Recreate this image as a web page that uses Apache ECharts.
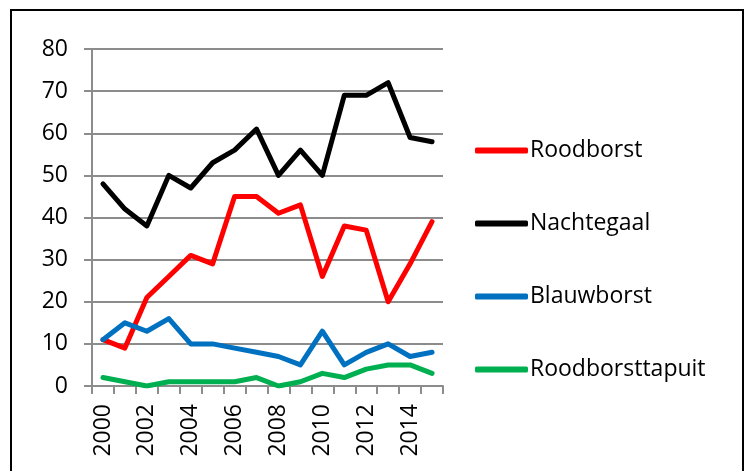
<!DOCTYPE html>
<html>
<head>
<meta charset="utf-8">
<script src="https://cdn.jsdelivr.net/npm/echarts@6/dist/echarts.min.js"></script>
<style>
  html, body { margin: 0; padding: 0; background: #fff; }
  #chart { width: 750px; height: 471px; }
</style>
</head>
<body>
<div id="chart"></div>
<script>
const years = ['2000', '2001', '2002', '2003', '2004', '2005', '2006', '2007',
  '2008', '2009', '2010', '2011', '2012', '2013', '2014', '2015']
const roodborst = [11, 9, 21, 26, 31, 29, 45, 45, 41, 43, 26, 38, 37, 20, 29, 39]
const nachtegaal = [48, 42, 38, 50, 47, 53, 56, 61, 50, 56, 50, 69, 69, 72, 59, 58]
const blauwborst = [11, 15, 13, 16, 10, 10, 9, 8, 7, 5, 13, 5, 8, 10, 7, 8]
const roodborsttapuit = [2, 1, 0, 1, 1, 1, 1, 2, 0, 1, 3, 2, 4, 5, 5, 3]

const font = '"Open Sans", "Noto Sans", sans-serif'
const gridColor = '#8c8c8c'

const chart = echarts.init(document.getElementById('chart'))

function line(name, data, color) {
  return {
    name,
    type: 'line',
    data,
    symbol: 'none',
    lineStyle: { color, width: 5, cap: 'round', join: 'round' },
    itemStyle: { color },
  }
}

chart.setOption({
  animation: false,
  textStyle: { fontFamily: font },
  graphic: [{
    type: 'rect',
    shape: { x: 11, y: 10, width: 732, height: 480 },
    style: { fill: 'none', stroke: '#000', lineWidth: 2 },
  }],
  grid: { left: 92, right: 307, top: 49, bottom: 85 },
  legend: {
    orient: 'vertical',
    left: 470,
    top: 134,
    icon: 'roundRect',
    itemWidth: 53,
    itemHeight: 6,
    itemGap: 50,
    textStyle: { fontFamily: font, fontSize: 23, color: '#000', padding: [0, 0, 0, -3] },
    data: ['Roodborst', 'Nachtegaal', 'Blauwborst', 'Roodborsttapuit'],
  },
  xAxis: {
    type: 'category',
    data: years,
    boundaryGap: true,
    axisLine: { lineStyle: { color: gridColor, width: 2 } },
    axisTick: { show: true, length: 8, lineStyle: { color: gridColor, width: 2 }, interval: 0 },
    axisLabel: { rotate: 90, interval: 1, margin: 18, fontSize: 23, color: '#000', fontFamily: font },
  },
  yAxis: {
    type: 'value',
    min: 0,
    max: 80,
    interval: 10,
    axisLine: { show: true, lineStyle: { color: gridColor, width: 2 } },
    axisTick: { show: true, length: 8, lineStyle: { color: gridColor, width: 2 } },
    axisLabel: { margin: 24, fontSize: 23, color: '#000', fontFamily: font },
    splitLine: { lineStyle: { color: gridColor, width: 2 } },
  },
  series: [
    line('Roodborst', roodborst, '#ff0000'),
    line('Nachtegaal', nachtegaal, '#000000'),
    line('Blauwborst', blauwborst, '#0070c0'),
    line('Roodborsttapuit', roodborsttapuit, '#00b050'),
  ],
})
</script>
</body>
</html>
